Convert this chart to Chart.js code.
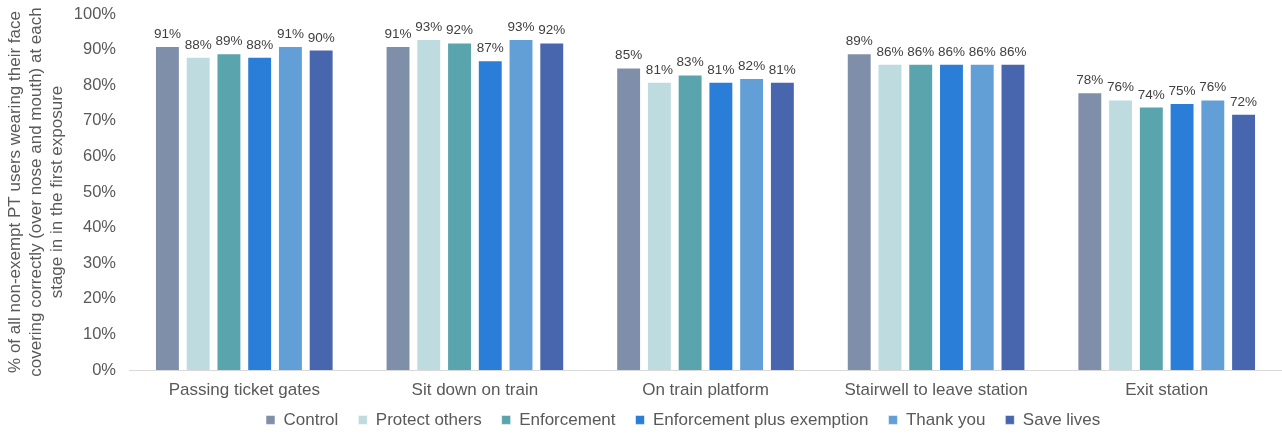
<!DOCTYPE html>
<html>
<head>
<meta charset="utf-8">
<script src="https://cdn.jsdelivr.net/npm/chart.js@4"></script>
<style>
  body { margin: 0; background: #fff; }
  #wrap { width: 1282px; height: 435px; }
</style>
</head>
<body>
<div id="wrap"><canvas id="maskChart"></canvas></div>
<script>
const stages = ['Passing ticket gates', 'Sit down on train', 'On train platform', 'Stairwell to leave station', 'Exit station']
const control = [91, 91, 85, 89, 78]
const protectOthers = [88, 93, 81, 86, 76]
const enforcement = [89, 92, 83, 86, 74]
const enforcementExempt = [88, 87, 81, 86, 75]
const thankYou = [91, 93, 82, 86, 76]
const saveLives = [90, 92, 81, 86, 72]
const yTitle = ['% of all non-exempt PT users wearing their face',
    'covering correctly (over nose and mouth) at each',
    'stage in in the first exposure']

const series = [
    {label: 'Control', data: control, color: '#7f8faa'},
    {label: 'Protect others', data: protectOthers, color: '#bedbe0'},
    {label: 'Enforcement', data: enforcement, color: '#5aa4ad'},
    {label: 'Enforcement plus exemption', data: enforcementExempt, color: '#2a7ed8'},
    {label: 'Thank you', data: thankYou, color: '#619fd6'},
    {label: 'Save lives', data: saveLives, color: '#4866ad'}
]
const fontFamily = '"Liberation Sans", Arial, sans-serif'

// value labels above every bar
const barLabels = {
    id: 'barLabels',
    afterDatasetsDraw(chart) {
        const ctx = chart.ctx
        ctx.save()
        ctx.font = '13.5px ' + fontFamily
        ctx.fillStyle = '#404040'
        ctx.textAlign = 'center'
        ctx.textBaseline = 'bottom'
        chart.data.datasets.forEach((ds, i) => {
            chart.getDatasetMeta(i).data.forEach((bar, j) => {
                ctx.fillText(ds.data[j] + '%', bar.x, bar.y - 5)
            })
        })
        ctx.restore()
    }
}

// pull the legend up under the axis labels and a bit right of centre
const legendShift = {
    id: 'legendShift',
    afterLayout(chart) {
        const lg = chart.legend
        const w = lg.right - lg.left
        lg.left = 246
        lg.right = lg.left + w
        lg.top -= 19
        lg.bottom -= 19
    }
}

const maskctx = document.getElementById('maskChart').getContext('2d')
const maskChart = new Chart(maskctx, {
    type: 'bar',
    data: {
        labels: stages,
        datasets: series.map(s => ({
            label: s.label,
            data: s.data,
            backgroundColor: s.color,
            borderColor: 'rgba(255,255,255,0.55)',
            borderWidth: 1,
            categoryPercentage: 0.8,
            barPercentage: 0.81
        }))
    },
    options: {
        responsive: true,
        maintainAspectRatio: false,
        animation: false,
        layout: {padding: {top: 14, right: 0, left: 0, bottom: -22.4}},
        plugins: {
            tooltip: {enabled: false},
            legend: {
                position: 'bottom',
                align: 'start',
                labels: {
                    boxWidth: 9,
                    boxHeight: 9,
                    padding: 20,
                    color: '#595959',
                    font: {size: 17, family: fontFamily}
                }
            }
        },
        scales: {
            x: {
                grid: {display: false, drawTicks: false},
                border: {display: true, color: '#d9d9d9'},
                ticks: {
                    color: '#595959',
                    padding: 10,
                    font: {size: 17, family: fontFamily}
                }
            },
            y: {
                min: 0,
                max: 100,
                afterFit: (scale) => {
                    scale.width = 129
                    scale.paddingTop = 0
                    scale.paddingBottom = 0
                },
                grid: {display: false, drawTicks: false},
                border: {display: false},
                ticks: {
                    stepSize: 10,
                    padding: 13,
                    color: '#595959',
                    callback: v => v + '%',
                    font: {size: 16.5, family: fontFamily}
                },
                title: {
                    display: true,
                    text: yTitle,
                    color: '#595959',
                    padding: {top: 4.5, bottom: 0},
                    font: {size: 17, lineHeight: 1.24, family: fontFamily}
                }
            }
        }
    },
    plugins: [barLabels, legendShift]
})
</script>
</body>
</html>
